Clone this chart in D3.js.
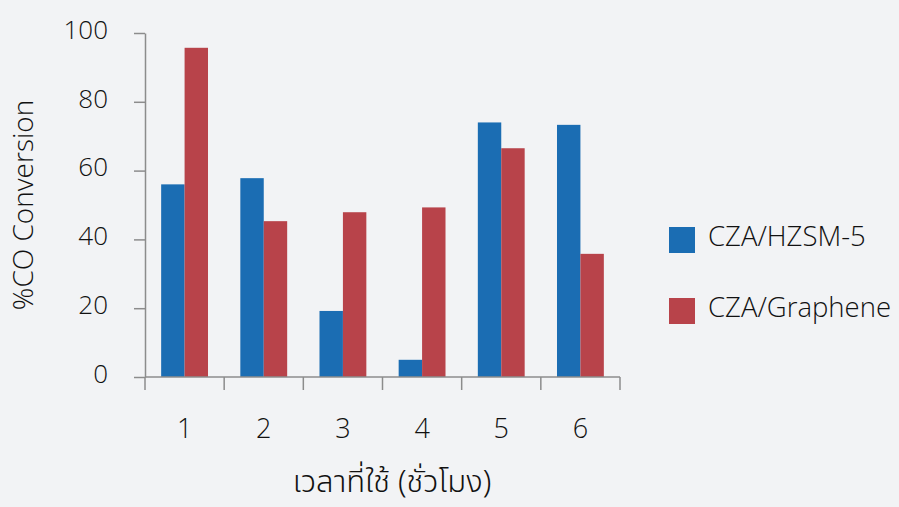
<!DOCTYPE html>
<html>
<head>
<meta charset="utf-8">
<script src="https://cdn.jsdelivr.net/npm/d3@7"></script>
<style>
  html, body { margin: 0; padding: 0; background: #f2f3f5; }
  svg { display: block; }
  text { font-family: "Open Sans", "Noto Sans", sans-serif; font-weight: 350; fill: #111; }
</style>
</head>
<body>
<svg id="chart" width="899" height="507"></svg>
<script>
// Hours of use and %CO conversion for each catalyst
const hours = ["1", "2", "3", "4", "5", "6"];
const seriesNames = ["CZA/HZSM-5", "CZA/Graphene"];
const hzsm5 = [56.0, 57.8, 19.2, 5.0, 74.0, 73.3];
const graphene = [95.7, 45.3, 47.9, 49.3, 66.5, 35.8];
const yTicks = [0, 20, 40, 60, 80, 100];
const colors = ["#1b6db3", "#b8434a"];

const svg = d3.select("#chart");
const axisColor = "#8c8c8c";
const font = "'Open Sans', 'Noto Sans', sans-serif";

const x = d3.scaleBand().domain(hours).range([145, 620]).paddingInner(0).paddingOuter(0);
const xSub = d3.scaleBand().domain(seriesNames).range([0, x.bandwidth()]).paddingInner(0).paddingOuter(0.69);
const y = d3.scaleLinear().domain([0, 100]).range([377, 33]);

const rows = hours.map((h, i) => ({ hour: h, values: [hzsm5[i], graphene[i]] }));

// bars
const groups = svg.append("g").selectAll("g").data(rows).join("g")
  .attr("transform", d => `translate(${x(d.hour)},0)`);
groups.selectAll("rect")
  .data(d => d.values.map((v, k) => ({ name: seriesNames[k], value: v, k })))
  .join("rect")
  .attr("x", d => xSub(d.name))
  .attr("width", xSub.bandwidth())
  .attr("y", d => y(d.value))
  .attr("height", d => y(0) - y(d.value))
  .attr("fill", d => colors[d.k]);

// y axis
const yAxis = svg.append("g").attr("transform", `translate(${x.range()[0]},0)`)
  .call(d3.axisLeft(y).tickValues(yTicks).tickSize(11).tickSizeOuter(0).tickPadding(26));
yAxis.selectAll("path, line").attr("stroke", axisColor).attr("stroke-width", 1.5);
yAxis.selectAll("text").attr("font-size", 26).attr("dy", "0.2em")
  .style("font-family", font).style("font-weight", 350).attr("fill", "#111");

// x axis: baseline, boundary ticks between groups, centered labels
const xAxis = svg.append("g").attr("transform", `translate(0,${y(0)})`);
xAxis.append("line")
  .attr("x1", x.range()[0]).attr("x2", x.range()[1])
  .attr("stroke", axisColor).attr("stroke-width", 1.5);
const bounds = hours.map(h => x(h)).concat([x(hours[hours.length - 1]) + x.bandwidth()]);
xAxis.selectAll("line.tick").data(bounds).join("line").attr("class", "tick")
  .attr("x1", d => d).attr("x2", d => d).attr("y1", 0).attr("y2", 13)
  .attr("stroke", axisColor).attr("stroke-width", 1.5);
xAxis.call(g => g.append("g")
  .call(d3.axisBottom(x).tickSize(0).tickPadding(0))
  .call(a => a.select(".domain").remove())
  .call(a => a.selectAll("text").attr("y", 61).attr("dy", 0)
    .attr("font-size", 27).style("font-family", font).style("font-weight", 350).attr("fill", "#111")));

// axis titles
svg.append("text")
  .attr("transform", "translate(33,205) rotate(-90)")
  .attr("text-anchor", "middle")
  .attr("font-size", 28)
  .text("%CO Conversion");

svg.append("text")
  .attr("x", 392).attr("y", 492)
  .attr("text-anchor", "middle")
  .attr("font-size", 31)
  .style("font-family", "'Noto Sans Thai', 'Open Sans', 'Noto Sans', sans-serif")
  .text("เวลาที่ใช้ (ชั่วโมง)");

// legend
const legend = svg.append("g").selectAll("g").data(seriesNames).join("g")
  .attr("transform", (d, i) => `translate(669,${227 + i * 71})`);
legend.append("rect").attr("width", 26).attr("height", 26)
  .attr("fill", (d, i) => colors[i]);
legend.append("text").attr("x", 39).attr("y", 19)
  .attr("font-size", 27.5)
  .text(d => d);
</script>
</body>
</html>
